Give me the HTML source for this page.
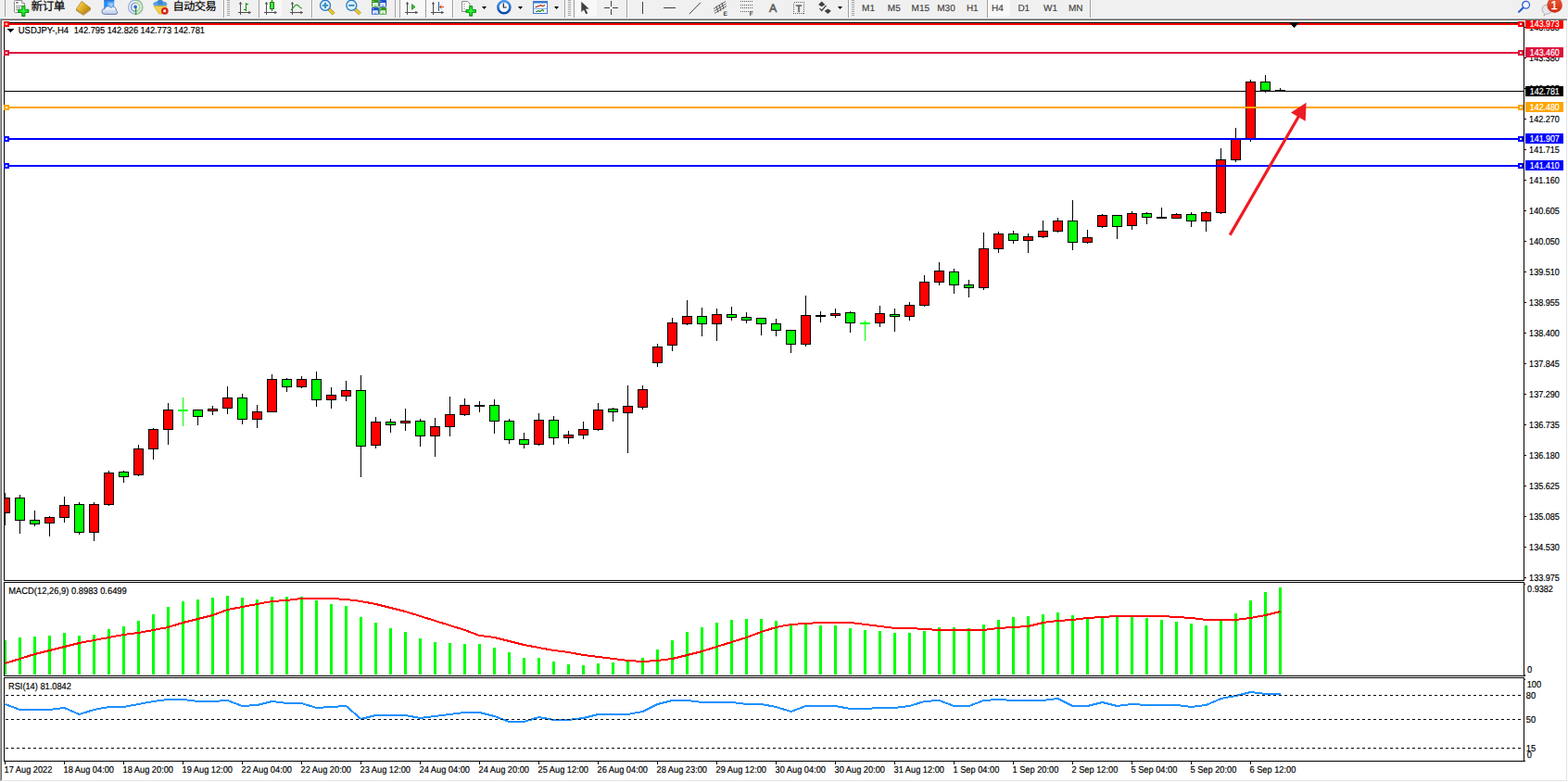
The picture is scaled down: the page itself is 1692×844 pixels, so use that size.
<!DOCTYPE html>
<html><head><meta charset="utf-8"><title>USDJPY H4</title>
<style>
html,body{margin:0;padding:0;background:#f0f0f0;overflow:hidden}
svg{display:block}
text{font-family:"Liberation Sans",sans-serif;white-space:pre;text-rendering:geometricPrecision}
</style></head><body>
<svg width="1692" height="844" viewBox="0 0 1692 844">
<g shape-rendering="crispEdges">
<rect x="0" y="0" width="1692" height="844" fill="#f0f0f0"/>
<rect x="0" y="19" width="1691" height="1" fill="#f7f7f7"/>
<rect x="0" y="20" width="1691" height="1" fill="#a0a0a0"/>
<rect x="0" y="21" width="1691" height="1" fill="#696969"/>
<rect x="0" y="20" width="1" height="823" fill="#a0a0a0"/>
<rect x="1" y="21" width="1" height="821" fill="#696969"/>
<rect x="2" y="22" width="1688" height="820" fill="#ffffff"/>
<rect x="1690" y="22" width="1" height="821" fill="#e3e3e3"/>
<rect x="1" y="842" width="1690" height="1" fill="#e3e3e3"/>
<rect x="1691" y="19" width="1" height="825" fill="#ffffff"/>
<rect x="0" y="843" width="1692" height="1" fill="#ffffff"/>
<rect x="4" y="24" width="1641" height="1" fill="#000"/>
<rect x="4" y="24" width="1" height="603" fill="#000"/>
<rect x="4" y="626" width="1641" height="1" fill="#000"/>
<rect x="1644" y="24" width="1" height="603" fill="#000"/>
<rect x="4" y="628" width="1641" height="1" fill="#000"/>
<rect x="4" y="628" width="1" height="102" fill="#000"/>
<rect x="4" y="729" width="1642" height="1" fill="#000"/>
<rect x="1644" y="628" width="1" height="102" fill="#000"/>
<rect x="4" y="731" width="1641" height="1" fill="#000"/>
<rect x="4" y="731" width="1" height="91" fill="#000"/>
<rect x="4" y="821" width="1642" height="1" fill="#000"/>
<rect x="1644" y="731" width="1" height="91" fill="#000"/>
<rect x="1645" y="623" width="2" height="1" fill="#000"/>
<rect x="1645" y="590" width="2" height="1" fill="#000"/>
<rect x="1645" y="557" width="2" height="1" fill="#000"/>
<rect x="1645" y="524" width="2" height="1" fill="#000"/>
<rect x="1645" y="491" width="2" height="1" fill="#000"/>
<rect x="1645" y="458" width="2" height="1" fill="#000"/>
<rect x="1645" y="425" width="2" height="1" fill="#000"/>
<rect x="1645" y="392" width="2" height="1" fill="#000"/>
<rect x="1645" y="359" width="2" height="1" fill="#000"/>
<rect x="1645" y="326" width="2" height="1" fill="#000"/>
<rect x="1645" y="293" width="2" height="1" fill="#000"/>
<rect x="1645" y="260" width="2" height="1" fill="#000"/>
<rect x="1645" y="227" width="2" height="1" fill="#000"/>
<rect x="1645" y="194" width="2" height="1" fill="#000"/>
<rect x="1645" y="161" width="2" height="1" fill="#000"/>
<rect x="1645" y="128" width="2" height="1" fill="#000"/>
<rect x="1645" y="95" width="2" height="1" fill="#000"/>
<rect x="1645" y="62" width="2" height="1" fill="#000"/>
<rect x="1645" y="29" width="2" height="1" fill="#000"/>
<rect x="1645" y="630" width="1" height="1" fill="#000"/>
<rect x="1645" y="728" width="1" height="1" fill="#000"/>
<rect x="1645" y="733" width="1" height="1" fill="#000"/>
<rect x="5" y="822" width="1" height="3" fill="#000"/>
<rect x="69" y="822" width="1" height="3" fill="#000"/>
<rect x="133" y="822" width="1" height="3" fill="#000"/>
<rect x="197" y="822" width="1" height="3" fill="#000"/>
<rect x="261" y="822" width="1" height="3" fill="#000"/>
<rect x="325" y="822" width="1" height="3" fill="#000"/>
<rect x="389" y="822" width="1" height="3" fill="#000"/>
<rect x="453" y="822" width="1" height="3" fill="#000"/>
<rect x="517" y="822" width="1" height="3" fill="#000"/>
<rect x="581" y="822" width="1" height="3" fill="#000"/>
<rect x="645" y="822" width="1" height="3" fill="#000"/>
<rect x="709" y="822" width="1" height="3" fill="#000"/>
<rect x="773" y="822" width="1" height="3" fill="#000"/>
<rect x="837" y="822" width="1" height="3" fill="#000"/>
<rect x="901" y="822" width="1" height="3" fill="#000"/>
<rect x="965" y="822" width="1" height="3" fill="#000"/>
<rect x="1029" y="822" width="1" height="3" fill="#000"/>
<rect x="1093" y="822" width="1" height="3" fill="#000"/>
<rect x="1157" y="822" width="1" height="3" fill="#000"/>
<rect x="1221" y="822" width="1" height="3" fill="#000"/>
<rect x="1285" y="822" width="1" height="3" fill="#000"/>
<rect x="1349" y="822" width="1" height="3" fill="#000"/>
<rect x="5" y="98" width="1639" height="1" fill="#000"/>
<rect x="5" y="532" width="1" height="35" fill="#000"/>
<rect x="5" y="537" width="6" height="17" fill="#000"/>
<rect x="5" y="538" width="5" height="15" fill="#ff0000"/>
<rect x="21" y="534" width="1" height="42" fill="#000"/>
<rect x="16" y="537" width="11" height="25" fill="#000"/>
<rect x="17" y="538" width="9" height="23" fill="#00ff00"/>
<rect x="37" y="551" width="1" height="17" fill="#000"/>
<rect x="32" y="561" width="11" height="5" fill="#000"/>
<rect x="33" y="562" width="9" height="3" fill="#00ff00"/>
<rect x="53" y="557" width="1" height="22" fill="#000"/>
<rect x="48" y="558" width="11" height="7" fill="#000"/>
<rect x="49" y="559" width="9" height="5" fill="#ff0000"/>
<rect x="69" y="536" width="1" height="28" fill="#000"/>
<rect x="64" y="545" width="11" height="14" fill="#000"/>
<rect x="65" y="546" width="9" height="12" fill="#ff0000"/>
<rect x="85" y="542" width="1" height="35" fill="#000"/>
<rect x="80" y="544" width="11" height="31" fill="#000"/>
<rect x="81" y="545" width="9" height="29" fill="#00ff00"/>
<rect x="101" y="542" width="1" height="42" fill="#000"/>
<rect x="96" y="544" width="11" height="31" fill="#000"/>
<rect x="97" y="545" width="9" height="29" fill="#ff0000"/>
<rect x="117" y="508" width="1" height="38" fill="#000"/>
<rect x="112" y="510" width="11" height="35" fill="#000"/>
<rect x="113" y="511" width="9" height="33" fill="#ff0000"/>
<rect x="133" y="508" width="1" height="13" fill="#000"/>
<rect x="128" y="509" width="11" height="6" fill="#000"/>
<rect x="129" y="510" width="9" height="4" fill="#00ff00"/>
<rect x="149" y="480" width="1" height="34" fill="#000"/>
<rect x="144" y="484" width="11" height="29" fill="#000"/>
<rect x="145" y="485" width="9" height="27" fill="#ff0000"/>
<rect x="165" y="462" width="1" height="34" fill="#000"/>
<rect x="160" y="463" width="11" height="22" fill="#000"/>
<rect x="161" y="464" width="9" height="20" fill="#ff0000"/>
<rect x="181" y="435" width="1" height="45" fill="#000"/>
<rect x="176" y="442" width="11" height="22" fill="#000"/>
<rect x="177" y="443" width="9" height="20" fill="#ff0000"/>
<rect x="197" y="429" width="1" height="31" fill="#00ff00"/>
<rect x="192" y="442" width="11" height="2" fill="#00ff00"/>
<rect x="213" y="442" width="1" height="17" fill="#000"/>
<rect x="208" y="442" width="11" height="8" fill="#000"/>
<rect x="209" y="443" width="9" height="6" fill="#00ff00"/>
<rect x="229" y="438" width="1" height="10" fill="#000"/>
<rect x="224" y="441" width="11" height="3" fill="#000"/>
<rect x="225" y="442" width="9" height="1" fill="#ff0000"/>
<rect x="245" y="417" width="1" height="30" fill="#000"/>
<rect x="240" y="429" width="11" height="12" fill="#000"/>
<rect x="241" y="430" width="9" height="10" fill="#ff0000"/>
<rect x="261" y="425" width="1" height="33" fill="#000"/>
<rect x="256" y="429" width="11" height="24" fill="#000"/>
<rect x="257" y="430" width="9" height="22" fill="#00ff00"/>
<rect x="277" y="437" width="1" height="25" fill="#000"/>
<rect x="272" y="444" width="11" height="9" fill="#000"/>
<rect x="273" y="445" width="9" height="7" fill="#ff0000"/>
<rect x="293" y="404" width="1" height="41" fill="#000"/>
<rect x="288" y="409" width="11" height="36" fill="#000"/>
<rect x="289" y="410" width="9" height="34" fill="#ff0000"/>
<rect x="309" y="408" width="1" height="15" fill="#000"/>
<rect x="304" y="409" width="11" height="9" fill="#000"/>
<rect x="305" y="410" width="9" height="7" fill="#00ff00"/>
<rect x="325" y="406" width="1" height="13" fill="#000"/>
<rect x="320" y="409" width="11" height="9" fill="#000"/>
<rect x="321" y="410" width="9" height="7" fill="#ff0000"/>
<rect x="341" y="401" width="1" height="38" fill="#000"/>
<rect x="336" y="409" width="11" height="23" fill="#000"/>
<rect x="337" y="410" width="9" height="21" fill="#00ff00"/>
<rect x="357" y="418" width="1" height="23" fill="#000"/>
<rect x="352" y="426" width="11" height="6" fill="#000"/>
<rect x="353" y="427" width="9" height="4" fill="#ff0000"/>
<rect x="373" y="411" width="1" height="22" fill="#000"/>
<rect x="368" y="421" width="11" height="7" fill="#000"/>
<rect x="369" y="422" width="9" height="5" fill="#ff0000"/>
<rect x="389" y="405" width="1" height="110" fill="#000"/>
<rect x="384" y="421" width="11" height="61" fill="#000"/>
<rect x="385" y="422" width="9" height="59" fill="#00ff00"/>
<rect x="405" y="450" width="1" height="34" fill="#000"/>
<rect x="400" y="455" width="11" height="26" fill="#000"/>
<rect x="401" y="456" width="9" height="24" fill="#ff0000"/>
<rect x="421" y="452" width="1" height="15" fill="#000"/>
<rect x="416" y="455" width="11" height="4" fill="#000"/>
<rect x="417" y="456" width="9" height="2" fill="#00ff00"/>
<rect x="437" y="441" width="1" height="24" fill="#000"/>
<rect x="432" y="454" width="11" height="3" fill="#000"/>
<rect x="433" y="455" width="9" height="1" fill="#ff0000"/>
<rect x="453" y="452" width="1" height="30" fill="#000"/>
<rect x="448" y="454" width="11" height="17" fill="#000"/>
<rect x="449" y="455" width="9" height="15" fill="#00ff00"/>
<rect x="469" y="451" width="1" height="42" fill="#000"/>
<rect x="464" y="460" width="11" height="11" fill="#000"/>
<rect x="465" y="461" width="9" height="9" fill="#ff0000"/>
<rect x="485" y="428" width="1" height="43" fill="#000"/>
<rect x="480" y="447" width="11" height="14" fill="#000"/>
<rect x="481" y="448" width="9" height="12" fill="#ff0000"/>
<rect x="501" y="430" width="1" height="19" fill="#000"/>
<rect x="496" y="437" width="11" height="11" fill="#000"/>
<rect x="497" y="438" width="9" height="9" fill="#ff0000"/>
<rect x="517" y="433" width="1" height="12" fill="#000"/>
<rect x="512" y="437" width="11" height="2" fill="#000"/>
<rect x="533" y="431" width="1" height="37" fill="#000"/>
<rect x="528" y="437" width="11" height="18" fill="#000"/>
<rect x="529" y="438" width="9" height="16" fill="#00ff00"/>
<rect x="549" y="452" width="1" height="27" fill="#000"/>
<rect x="544" y="454" width="11" height="21" fill="#000"/>
<rect x="545" y="455" width="9" height="19" fill="#00ff00"/>
<rect x="565" y="467" width="1" height="17" fill="#000"/>
<rect x="560" y="474" width="11" height="6" fill="#000"/>
<rect x="561" y="475" width="9" height="4" fill="#00ff00"/>
<rect x="581" y="446" width="1" height="35" fill="#000"/>
<rect x="576" y="453" width="11" height="27" fill="#000"/>
<rect x="577" y="454" width="9" height="25" fill="#ff0000"/>
<rect x="597" y="449" width="1" height="31" fill="#000"/>
<rect x="592" y="453" width="11" height="20" fill="#000"/>
<rect x="593" y="454" width="9" height="18" fill="#00ff00"/>
<rect x="613" y="465" width="1" height="14" fill="#000"/>
<rect x="608" y="469" width="11" height="4" fill="#000"/>
<rect x="609" y="470" width="9" height="2" fill="#ff0000"/>
<rect x="629" y="455" width="1" height="19" fill="#000"/>
<rect x="624" y="463" width="11" height="7" fill="#000"/>
<rect x="625" y="464" width="9" height="5" fill="#ff0000"/>
<rect x="645" y="435" width="1" height="30" fill="#000"/>
<rect x="640" y="442" width="11" height="22" fill="#000"/>
<rect x="641" y="443" width="9" height="20" fill="#ff0000"/>
<rect x="661" y="440" width="1" height="15" fill="#000"/>
<rect x="656" y="441" width="11" height="4" fill="#000"/>
<rect x="657" y="442" width="9" height="2" fill="#00ff00"/>
<rect x="677" y="416" width="1" height="73" fill="#000"/>
<rect x="672" y="438" width="11" height="8" fill="#000"/>
<rect x="673" y="439" width="9" height="6" fill="#ff0000"/>
<rect x="693" y="416" width="1" height="26" fill="#000"/>
<rect x="688" y="420" width="11" height="20" fill="#000"/>
<rect x="689" y="421" width="9" height="18" fill="#ff0000"/>
<rect x="709" y="371" width="1" height="25" fill="#000"/>
<rect x="704" y="374" width="11" height="18" fill="#000"/>
<rect x="705" y="375" width="9" height="16" fill="#ff0000"/>
<rect x="725" y="343" width="1" height="36" fill="#000"/>
<rect x="720" y="348" width="11" height="25" fill="#000"/>
<rect x="721" y="349" width="9" height="23" fill="#ff0000"/>
<rect x="741" y="324" width="1" height="27" fill="#000"/>
<rect x="736" y="341" width="11" height="9" fill="#000"/>
<rect x="737" y="342" width="9" height="7" fill="#ff0000"/>
<rect x="757" y="332" width="1" height="31" fill="#000"/>
<rect x="752" y="341" width="11" height="9" fill="#000"/>
<rect x="753" y="342" width="9" height="7" fill="#00ff00"/>
<rect x="773" y="333" width="1" height="35" fill="#000"/>
<rect x="768" y="339" width="11" height="11" fill="#000"/>
<rect x="769" y="340" width="9" height="9" fill="#ff0000"/>
<rect x="789" y="331" width="1" height="15" fill="#000"/>
<rect x="784" y="339" width="11" height="4" fill="#000"/>
<rect x="785" y="340" width="9" height="2" fill="#00ff00"/>
<rect x="805" y="337" width="1" height="12" fill="#000"/>
<rect x="800" y="342" width="11" height="4" fill="#000"/>
<rect x="801" y="343" width="9" height="2" fill="#00ff00"/>
<rect x="821" y="343" width="1" height="19" fill="#000"/>
<rect x="816" y="343" width="11" height="7" fill="#000"/>
<rect x="817" y="344" width="9" height="5" fill="#00ff00"/>
<rect x="837" y="344" width="1" height="19" fill="#000"/>
<rect x="832" y="349" width="11" height="8" fill="#000"/>
<rect x="833" y="350" width="9" height="6" fill="#00ff00"/>
<rect x="853" y="356" width="1" height="25" fill="#000"/>
<rect x="848" y="356" width="11" height="16" fill="#000"/>
<rect x="849" y="357" width="9" height="14" fill="#00ff00"/>
<rect x="869" y="319" width="1" height="55" fill="#000"/>
<rect x="864" y="340" width="11" height="32" fill="#000"/>
<rect x="865" y="341" width="9" height="30" fill="#ff0000"/>
<rect x="885" y="336" width="1" height="12" fill="#000"/>
<rect x="880" y="340" width="11" height="2" fill="#000"/>
<rect x="901" y="333" width="1" height="10" fill="#000"/>
<rect x="896" y="338" width="11" height="3" fill="#000"/>
<rect x="897" y="339" width="9" height="1" fill="#ff0000"/>
<rect x="917" y="336" width="1" height="23" fill="#000"/>
<rect x="912" y="337" width="11" height="12" fill="#000"/>
<rect x="913" y="338" width="9" height="10" fill="#00ff00"/>
<rect x="933" y="346" width="1" height="22" fill="#00ff00"/>
<rect x="928" y="348" width="11" height="2" fill="#00ff00"/>
<rect x="949" y="330" width="1" height="23" fill="#000"/>
<rect x="944" y="338" width="11" height="11" fill="#000"/>
<rect x="945" y="339" width="9" height="9" fill="#ff0000"/>
<rect x="965" y="333" width="1" height="25" fill="#000"/>
<rect x="960" y="339" width="11" height="3" fill="#000"/>
<rect x="961" y="340" width="9" height="1" fill="#00ff00"/>
<rect x="981" y="326" width="1" height="20" fill="#000"/>
<rect x="976" y="329" width="11" height="13" fill="#000"/>
<rect x="977" y="330" width="9" height="11" fill="#ff0000"/>
<rect x="997" y="297" width="1" height="34" fill="#000"/>
<rect x="992" y="304" width="11" height="26" fill="#000"/>
<rect x="993" y="305" width="9" height="24" fill="#ff0000"/>
<rect x="1013" y="283" width="1" height="25" fill="#000"/>
<rect x="1008" y="292" width="11" height="13" fill="#000"/>
<rect x="1009" y="293" width="9" height="11" fill="#ff0000"/>
<rect x="1029" y="290" width="1" height="27" fill="#000"/>
<rect x="1024" y="293" width="11" height="15" fill="#000"/>
<rect x="1025" y="294" width="9" height="13" fill="#00ff00"/>
<rect x="1045" y="302" width="1" height="19" fill="#000"/>
<rect x="1040" y="307" width="11" height="4" fill="#000"/>
<rect x="1041" y="308" width="9" height="2" fill="#00ff00"/>
<rect x="1061" y="251" width="1" height="62" fill="#000"/>
<rect x="1056" y="268" width="11" height="43" fill="#000"/>
<rect x="1057" y="269" width="9" height="41" fill="#ff0000"/>
<rect x="1077" y="250" width="1" height="23" fill="#000"/>
<rect x="1072" y="252" width="11" height="17" fill="#000"/>
<rect x="1073" y="253" width="9" height="15" fill="#ff0000"/>
<rect x="1093" y="249" width="1" height="14" fill="#000"/>
<rect x="1088" y="252" width="11" height="8" fill="#000"/>
<rect x="1089" y="253" width="9" height="6" fill="#00ff00"/>
<rect x="1109" y="252" width="1" height="21" fill="#000"/>
<rect x="1104" y="255" width="11" height="5" fill="#000"/>
<rect x="1105" y="256" width="9" height="3" fill="#ff0000"/>
<rect x="1125" y="238" width="1" height="19" fill="#000"/>
<rect x="1120" y="249" width="11" height="7" fill="#000"/>
<rect x="1121" y="250" width="9" height="5" fill="#ff0000"/>
<rect x="1141" y="235" width="1" height="16" fill="#000"/>
<rect x="1136" y="238" width="11" height="12" fill="#000"/>
<rect x="1137" y="239" width="9" height="10" fill="#ff0000"/>
<rect x="1157" y="216" width="1" height="54" fill="#000"/>
<rect x="1152" y="238" width="11" height="24" fill="#000"/>
<rect x="1153" y="239" width="9" height="22" fill="#00ff00"/>
<rect x="1173" y="248" width="1" height="15" fill="#000"/>
<rect x="1168" y="256" width="11" height="6" fill="#000"/>
<rect x="1169" y="257" width="9" height="4" fill="#ff0000"/>
<rect x="1189" y="231" width="1" height="15" fill="#000"/>
<rect x="1184" y="232" width="11" height="13" fill="#000"/>
<rect x="1185" y="233" width="9" height="11" fill="#ff0000"/>
<rect x="1205" y="232" width="1" height="26" fill="#000"/>
<rect x="1200" y="232" width="11" height="13" fill="#000"/>
<rect x="1201" y="233" width="9" height="11" fill="#00ff00"/>
<rect x="1221" y="228" width="1" height="20" fill="#000"/>
<rect x="1216" y="230" width="11" height="14" fill="#000"/>
<rect x="1217" y="231" width="9" height="12" fill="#ff0000"/>
<rect x="1237" y="229" width="1" height="13" fill="#000"/>
<rect x="1232" y="230" width="11" height="5" fill="#000"/>
<rect x="1233" y="231" width="9" height="3" fill="#00ff00"/>
<rect x="1253" y="224" width="1" height="12" fill="#000"/>
<rect x="1248" y="234" width="11" height="2" fill="#000"/>
<rect x="1269" y="230" width="1" height="6" fill="#000"/>
<rect x="1264" y="231" width="11" height="5" fill="#000"/>
<rect x="1265" y="232" width="9" height="3" fill="#ff0000"/>
<rect x="1285" y="229" width="1" height="16" fill="#000"/>
<rect x="1280" y="231" width="11" height="8" fill="#000"/>
<rect x="1281" y="232" width="9" height="6" fill="#00ff00"/>
<rect x="1301" y="228" width="1" height="22" fill="#000"/>
<rect x="1296" y="229" width="11" height="10" fill="#000"/>
<rect x="1297" y="230" width="9" height="8" fill="#ff0000"/>
<rect x="1317" y="160" width="1" height="71" fill="#000"/>
<rect x="1312" y="172" width="11" height="58" fill="#000"/>
<rect x="1313" y="173" width="9" height="56" fill="#ff0000"/>
<rect x="1333" y="138" width="1" height="37" fill="#000"/>
<rect x="1328" y="150" width="11" height="23" fill="#000"/>
<rect x="1329" y="151" width="9" height="21" fill="#ff0000"/>
<rect x="1349" y="86" width="1" height="67" fill="#000"/>
<rect x="1344" y="88" width="11" height="62" fill="#000"/>
<rect x="1345" y="89" width="9" height="60" fill="#ff0000"/>
<rect x="1365" y="81" width="1" height="19" fill="#000"/>
<rect x="1360" y="88" width="11" height="10" fill="#000"/>
<rect x="1361" y="89" width="9" height="8" fill="#00ff00"/>
<rect x="1381" y="95" width="1" height="3" fill="#000"/>
<rect x="1376" y="97" width="11" height="1" fill="#000"/>
<rect x="5" y="691" width="2" height="37" fill="#00ff00"/>
<rect x="20" y="688" width="3" height="40" fill="#00ff00"/>
<rect x="36" y="687" width="3" height="41" fill="#00ff00"/>
<rect x="52" y="686" width="3" height="42" fill="#00ff00"/>
<rect x="68" y="683" width="3" height="45" fill="#00ff00"/>
<rect x="84" y="686" width="3" height="42" fill="#00ff00"/>
<rect x="100" y="685" width="3" height="43" fill="#00ff00"/>
<rect x="116" y="679" width="3" height="49" fill="#00ff00"/>
<rect x="132" y="676" width="3" height="52" fill="#00ff00"/>
<rect x="148" y="670" width="3" height="58" fill="#00ff00"/>
<rect x="164" y="663" width="3" height="65" fill="#00ff00"/>
<rect x="180" y="655" width="3" height="73" fill="#00ff00"/>
<rect x="196" y="649" width="3" height="79" fill="#00ff00"/>
<rect x="212" y="647" width="3" height="81" fill="#00ff00"/>
<rect x="228" y="645" width="3" height="83" fill="#00ff00"/>
<rect x="244" y="643" width="3" height="85" fill="#00ff00"/>
<rect x="260" y="645" width="3" height="83" fill="#00ff00"/>
<rect x="276" y="647" width="3" height="81" fill="#00ff00"/>
<rect x="292" y="644" width="3" height="84" fill="#00ff00"/>
<rect x="308" y="644" width="3" height="84" fill="#00ff00"/>
<rect x="324" y="644" width="3" height="84" fill="#00ff00"/>
<rect x="340" y="648" width="3" height="80" fill="#00ff00"/>
<rect x="356" y="652" width="3" height="76" fill="#00ff00"/>
<rect x="372" y="654" width="3" height="74" fill="#00ff00"/>
<rect x="388" y="666" width="3" height="62" fill="#00ff00"/>
<rect x="404" y="672" width="3" height="56" fill="#00ff00"/>
<rect x="420" y="678" width="3" height="50" fill="#00ff00"/>
<rect x="436" y="682" width="3" height="46" fill="#00ff00"/>
<rect x="452" y="689" width="3" height="39" fill="#00ff00"/>
<rect x="468" y="693" width="3" height="35" fill="#00ff00"/>
<rect x="484" y="694" width="3" height="34" fill="#00ff00"/>
<rect x="500" y="695" width="3" height="33" fill="#00ff00"/>
<rect x="516" y="695" width="3" height="33" fill="#00ff00"/>
<rect x="532" y="699" width="3" height="29" fill="#00ff00"/>
<rect x="548" y="704" width="3" height="24" fill="#00ff00"/>
<rect x="564" y="710" width="3" height="18" fill="#00ff00"/>
<rect x="580" y="710" width="3" height="18" fill="#00ff00"/>
<rect x="596" y="714" width="3" height="14" fill="#00ff00"/>
<rect x="612" y="717" width="3" height="11" fill="#00ff00"/>
<rect x="628" y="718" width="3" height="10" fill="#00ff00"/>
<rect x="644" y="716" width="3" height="12" fill="#00ff00"/>
<rect x="660" y="715" width="3" height="13" fill="#00ff00"/>
<rect x="676" y="714" width="3" height="14" fill="#00ff00"/>
<rect x="692" y="710" width="3" height="18" fill="#00ff00"/>
<rect x="708" y="701" width="3" height="27" fill="#00ff00"/>
<rect x="724" y="691" width="3" height="37" fill="#00ff00"/>
<rect x="740" y="682" width="3" height="46" fill="#00ff00"/>
<rect x="756" y="677" width="3" height="51" fill="#00ff00"/>
<rect x="772" y="672" width="3" height="56" fill="#00ff00"/>
<rect x="788" y="669" width="3" height="59" fill="#00ff00"/>
<rect x="804" y="668" width="3" height="60" fill="#00ff00"/>
<rect x="820" y="668" width="3" height="60" fill="#00ff00"/>
<rect x="836" y="670" width="3" height="58" fill="#00ff00"/>
<rect x="852" y="674" width="3" height="54" fill="#00ff00"/>
<rect x="868" y="674" width="3" height="54" fill="#00ff00"/>
<rect x="884" y="675" width="3" height="53" fill="#00ff00"/>
<rect x="900" y="675" width="3" height="53" fill="#00ff00"/>
<rect x="916" y="678" width="3" height="50" fill="#00ff00"/>
<rect x="932" y="680" width="3" height="48" fill="#00ff00"/>
<rect x="948" y="681" width="3" height="47" fill="#00ff00"/>
<rect x="964" y="683" width="3" height="45" fill="#00ff00"/>
<rect x="980" y="683" width="3" height="45" fill="#00ff00"/>
<rect x="996" y="681" width="3" height="47" fill="#00ff00"/>
<rect x="1012" y="677" width="3" height="51" fill="#00ff00"/>
<rect x="1028" y="677" width="3" height="51" fill="#00ff00"/>
<rect x="1044" y="678" width="3" height="50" fill="#00ff00"/>
<rect x="1060" y="674" width="3" height="54" fill="#00ff00"/>
<rect x="1076" y="669" width="3" height="59" fill="#00ff00"/>
<rect x="1092" y="666" width="3" height="62" fill="#00ff00"/>
<rect x="1108" y="665" width="3" height="63" fill="#00ff00"/>
<rect x="1124" y="663" width="3" height="65" fill="#00ff00"/>
<rect x="1140" y="661" width="3" height="67" fill="#00ff00"/>
<rect x="1156" y="664" width="3" height="64" fill="#00ff00"/>
<rect x="1172" y="666" width="3" height="62" fill="#00ff00"/>
<rect x="1188" y="665" width="3" height="63" fill="#00ff00"/>
<rect x="1204" y="665" width="3" height="63" fill="#00ff00"/>
<rect x="1220" y="665" width="3" height="63" fill="#00ff00"/>
<rect x="1236" y="667" width="3" height="61" fill="#00ff00"/>
<rect x="1252" y="669" width="3" height="59" fill="#00ff00"/>
<rect x="1268" y="671" width="3" height="57" fill="#00ff00"/>
<rect x="1284" y="673" width="3" height="55" fill="#00ff00"/>
<rect x="1300" y="675" width="3" height="53" fill="#00ff00"/>
<rect x="1316" y="669" width="3" height="59" fill="#00ff00"/>
<rect x="1332" y="662" width="3" height="66" fill="#00ff00"/>
<rect x="1348" y="648" width="3" height="80" fill="#00ff00"/>
<rect x="1364" y="639" width="3" height="89" fill="#00ff00"/>
<rect x="1380" y="634" width="3" height="94" fill="#00ff00"/>
</g>
<polyline points="5.5,716 21.5,711 37.5,706 53.5,702 69.5,698 85.5,694 101.5,691 117.5,688 133.5,685 149.5,683 165.5,680 181.5,677 197.5,672 213.5,668 229.5,664 245.5,658 261.5,655 277.5,652 293.5,649 309.5,648 325.5,646 341.5,646 357.5,646 373.5,647 389.5,649 405.5,652 421.5,656 437.5,660 453.5,665 469.5,670 485.5,675 501.5,680 517.5,686 533.5,688 549.5,692 565.5,696 581.5,699 597.5,702 613.5,704 629.5,707 645.5,709 661.5,711 677.5,713 693.5,714 709.5,713 725.5,711 741.5,707 757.5,703 773.5,698 789.5,693 805.5,688 821.5,682 837.5,677 853.5,674 869.5,673 885.5,672 901.5,672 917.5,672 933.5,674 949.5,676 965.5,678 981.5,678 997.5,679 1013.5,680 1029.5,680 1045.5,680 1061.5,680 1077.5,678 1093.5,677 1109.5,676 1125.5,672 1141.5,670 1157.5,669 1173.5,667 1189.5,666 1205.5,665 1221.5,665 1237.5,665 1253.5,665 1269.5,666 1285.5,667 1301.5,669 1317.5,669 1333.5,669 1349.5,667 1365.5,664 1381.5,660" fill="none" stroke="#ff0000" stroke-width="2" stroke-linejoin="round" shape-rendering="crispEdges"/>
<polyline points="5.5,760 21.5,766 37.5,766 53.5,766 69.5,764 85.5,771 101.5,766 117.5,763 133.5,763 149.5,760 165.5,757 181.5,755 197.5,755 213.5,757 229.5,757 245.5,756 261.5,762 277.5,761 293.5,757 309.5,759 325.5,759 341.5,764 357.5,763 373.5,762 389.5,776 405.5,772 421.5,772 437.5,772 453.5,775 469.5,773 485.5,771 501.5,769 517.5,769 533.5,773 549.5,779 565.5,779 581.5,774 597.5,777 613.5,777 629.5,775 645.5,771 661.5,771 677.5,771 693.5,768 709.5,760 725.5,756 741.5,756 757.5,758 773.5,758 789.5,758 805.5,760 821.5,760 837.5,763 853.5,768 869.5,762 885.5,762 901.5,762 917.5,765 933.5,765 949.5,764 965.5,764 981.5,762 997.5,757 1013.5,756 1029.5,762 1045.5,762 1061.5,756 1077.5,755 1093.5,756 1109.5,756 1125.5,756 1141.5,754 1157.5,762 1173.5,762 1189.5,758 1205.5,762 1221.5,760 1237.5,761 1253.5,761 1269.5,761 1285.5,763 1301.5,761 1317.5,754 1333.5,751 1349.5,747 1365.5,749 1381.5,749" fill="none" stroke="#1e90ff" stroke-width="2" stroke-linejoin="round" shape-rendering="crispEdges"/>
<g shape-rendering="crispEdges">
<path d="M6 750.5H1642" stroke="#000" stroke-width="1" stroke-dasharray="3 3" fill="none"/>
<path d="M6 776.5H1642" stroke="#000" stroke-width="1" stroke-dasharray="3 3" fill="none"/>
<path d="M6 807.5H1642" stroke="#000" stroke-width="1" stroke-dasharray="3 3" fill="none"/>
<rect x="5" y="25" width="1639" height="2" fill="#ff0000"/>
<rect x="4" y="23" width="6" height="6" fill="#ff0000"/>
<rect x="6" y="25" width="2" height="2" fill="#fff"/>
<rect x="1638" y="23" width="6" height="6" fill="#ff0000"/>
<rect x="1640" y="25" width="2" height="2" fill="#fff"/>
<rect x="1646" y="22" width="41" height="9" fill="#ff0000"/>
<rect x="5" y="56" width="1639" height="2" fill="#dc143c"/>
<rect x="4" y="54" width="6" height="6" fill="#dc143c"/>
<rect x="6" y="56" width="2" height="2" fill="#fff"/>
<rect x="1638" y="54" width="6" height="6" fill="#dc143c"/>
<rect x="1640" y="56" width="2" height="2" fill="#fff"/>
<rect x="1646" y="51" width="41" height="11" fill="#dc143c"/>
<rect x="5" y="115" width="1639" height="2" fill="#ffa500"/>
<rect x="4" y="113" width="6" height="6" fill="#ffa500"/>
<rect x="6" y="115" width="2" height="2" fill="#fff"/>
<rect x="1638" y="113" width="6" height="6" fill="#ffa500"/>
<rect x="1640" y="115" width="2" height="2" fill="#fff"/>
<rect x="1646" y="110" width="41" height="11" fill="#ffa500"/>
<rect x="5" y="149" width="1639" height="2" fill="#0000ff"/>
<rect x="4" y="147" width="6" height="6" fill="#0000ff"/>
<rect x="6" y="149" width="2" height="2" fill="#fff"/>
<rect x="1638" y="147" width="6" height="6" fill="#0000ff"/>
<rect x="1640" y="149" width="2" height="2" fill="#fff"/>
<rect x="1646" y="144" width="41" height="11" fill="#0000ff"/>
<rect x="5" y="178" width="1639" height="2" fill="#0000ff"/>
<rect x="4" y="176" width="6" height="6" fill="#0000ff"/>
<rect x="6" y="178" width="2" height="2" fill="#fff"/>
<rect x="1638" y="176" width="6" height="6" fill="#0000ff"/>
<rect x="1640" y="178" width="2" height="2" fill="#fff"/>
<rect x="1646" y="173" width="41" height="11" fill="#0000ff"/>
<rect x="1646" y="93" width="41" height="11" fill="#000"/>
<rect x="1644" y="24" width="1" height="603" fill="#000"/>
<rect x="1391" y="24" width="11" height="1" fill="#000"/>
<rect x="1392" y="25" width="9" height="1" fill="#000"/>
<rect x="1393" y="26" width="7" height="1" fill="#000"/>
<rect x="1394" y="27" width="5" height="1" fill="#000"/>
<rect x="1395" y="28" width="3" height="1" fill="#000"/>
<rect x="1396" y="29" width="1" height="1" fill="#000"/>
<rect x="8" y="31" width="7" height="1" fill="#000"/>
<rect x="9" y="32" width="5" height="1" fill="#000"/>
<rect x="10" y="33" width="3" height="1" fill="#000"/>
<rect x="11" y="34" width="1" height="1" fill="#000"/>
</g>
<path d="M1327.2 253.6L1402 124.5" stroke="#ed1c24" stroke-width="3.2" fill="none"/>
<path d="M1409.6 110.8L1393 121.4L1408.7 130.7Z" fill="#ed1c24"/>
<text x="19.8" y="36" font-size="10.1" fill="#000" stroke="#000" stroke-width=".18" textLength="54.2" lengthAdjust="spacingAndGlyphs">USDJPY-,H4</text>
<text x="79.7" y="36" font-size="10.1" fill="#000" stroke="#000" stroke-width=".18" textLength="141.3" lengthAdjust="spacingAndGlyphs">142.795 142.826 142.773 142.781</text>
<text x="9.3" y="641" font-size="10.1" fill="#000" stroke="#000" stroke-width=".18" textLength="127.5" lengthAdjust="spacingAndGlyphs">MACD(12,26,9) 0.8983 0.6499</text>
<text x="9" y="744" font-size="10.1" fill="#000" stroke="#000" stroke-width=".18" textLength="67.8" lengthAdjust="spacingAndGlyphs">RSI(14) 81.0842</text>
<text x="1650.1" y="627" font-size="10.1" fill="#000" stroke="#000" stroke-width=".18" textLength="32.8" lengthAdjust="spacingAndGlyphs">133.975</text>
<text x="1650.1" y="594" font-size="10.1" fill="#000" stroke="#000" stroke-width=".18" textLength="32.8" lengthAdjust="spacingAndGlyphs">134.530</text>
<text x="1650.1" y="561" font-size="10.1" fill="#000" stroke="#000" stroke-width=".18" textLength="32.8" lengthAdjust="spacingAndGlyphs">135.085</text>
<text x="1650.1" y="528" font-size="10.1" fill="#000" stroke="#000" stroke-width=".18" textLength="32.8" lengthAdjust="spacingAndGlyphs">135.625</text>
<text x="1650.1" y="495" font-size="10.1" fill="#000" stroke="#000" stroke-width=".18" textLength="32.8" lengthAdjust="spacingAndGlyphs">136.180</text>
<text x="1650.1" y="462" font-size="10.1" fill="#000" stroke="#000" stroke-width=".18" textLength="32.8" lengthAdjust="spacingAndGlyphs">136.735</text>
<text x="1650.1" y="429" font-size="10.1" fill="#000" stroke="#000" stroke-width=".18" textLength="32.8" lengthAdjust="spacingAndGlyphs">137.290</text>
<text x="1650.1" y="396" font-size="10.1" fill="#000" stroke="#000" stroke-width=".18" textLength="32.8" lengthAdjust="spacingAndGlyphs">137.845</text>
<text x="1650.1" y="363" font-size="10.1" fill="#000" stroke="#000" stroke-width=".18" textLength="32.8" lengthAdjust="spacingAndGlyphs">138.400</text>
<text x="1650.1" y="330" font-size="10.1" fill="#000" stroke="#000" stroke-width=".18" textLength="32.8" lengthAdjust="spacingAndGlyphs">138.955</text>
<text x="1650.1" y="297" font-size="10.1" fill="#000" stroke="#000" stroke-width=".18" textLength="32.8" lengthAdjust="spacingAndGlyphs">139.510</text>
<text x="1650.1" y="264" font-size="10.1" fill="#000" stroke="#000" stroke-width=".18" textLength="32.8" lengthAdjust="spacingAndGlyphs">140.050</text>
<text x="1650.1" y="231" font-size="10.1" fill="#000" stroke="#000" stroke-width=".18" textLength="32.8" lengthAdjust="spacingAndGlyphs">140.605</text>
<text x="1650.1" y="198" font-size="10.1" fill="#000" stroke="#000" stroke-width=".18" textLength="32.8" lengthAdjust="spacingAndGlyphs">141.160</text>
<text x="1650.1" y="165" font-size="10.1" fill="#000" stroke="#000" stroke-width=".18" textLength="32.8" lengthAdjust="spacingAndGlyphs">141.715</text>
<text x="1650.1" y="132" font-size="10.1" fill="#000" stroke="#000" stroke-width=".18" textLength="32.8" lengthAdjust="spacingAndGlyphs">142.270</text>
<clipPath id="c1"><rect x="1646" y="31" width="44" height="10"/></clipPath>
<clipPath id="c2"><rect x="1646" y="62" width="44" height="10"/></clipPath>
<clipPath id="c3"><rect x="1646" y="85" width="44" height="8"/></clipPath>
<text x="1650.1" y="33" font-size="10.1" fill="#000" stroke="#000" stroke-width=".18" textLength="32.8" lengthAdjust="spacingAndGlyphs" clip-path="url(#c1)">143.935</text>
<text x="1650.1" y="66" font-size="10.1" fill="#000" stroke="#000" stroke-width=".18" textLength="32.8" lengthAdjust="spacingAndGlyphs" clip-path="url(#c2)">143.380</text>
<text x="1650.1" y="99" font-size="10.1" fill="#000" stroke="#000" stroke-width=".18" textLength="32.8" lengthAdjust="spacingAndGlyphs" clip-path="url(#c3)">142.825</text>
<text x="1650.8" y="29" font-size="10.1" fill="#fff" stroke="#fff" stroke-width=".18" textLength="32" lengthAdjust="spacingAndGlyphs">143.973</text>
<text x="1650.8" y="60" font-size="10.1" fill="#fff" stroke="#fff" stroke-width=".18" textLength="32" lengthAdjust="spacingAndGlyphs">143.460</text>
<text x="1650.8" y="119" font-size="10.1" fill="#fff" stroke="#fff" stroke-width=".18" textLength="32" lengthAdjust="spacingAndGlyphs">142.480</text>
<text x="1650.8" y="153" font-size="10.1" fill="#fff" stroke="#fff" stroke-width=".18" textLength="32" lengthAdjust="spacingAndGlyphs">141.907</text>
<text x="1650.8" y="182" font-size="10.1" fill="#fff" stroke="#fff" stroke-width=".18" textLength="32" lengthAdjust="spacingAndGlyphs">141.410</text>
<text x="1650.8" y="102" font-size="10.1" fill="#fff" stroke="#fff" stroke-width=".18" textLength="32" lengthAdjust="spacingAndGlyphs">142.781</text>
<text x="1648.1" y="639" font-size="10.1" fill="#000" stroke="#000" stroke-width=".18" textLength="27.8" lengthAdjust="spacingAndGlyphs">0.9382</text>
<text x="1647.9" y="726" font-size="10.1" fill="#000" stroke="#000" stroke-width=".18" textLength="5.2" lengthAdjust="spacingAndGlyphs">0</text>
<text x="1647.7" y="742" font-size="10.1" fill="#000" stroke="#000" stroke-width=".18" textLength="15.4" lengthAdjust="spacingAndGlyphs">100</text>
<text x="1646.8" y="754" font-size="10.1" fill="#000" stroke="#000" stroke-width=".18" textLength="10.4" lengthAdjust="spacingAndGlyphs">80</text>
<text x="1646.8" y="780" font-size="10.1" fill="#000" stroke="#000" stroke-width=".18" textLength="10.4" lengthAdjust="spacingAndGlyphs">50</text>
<text x="1646.8" y="811" font-size="10.1" fill="#000" stroke="#000" stroke-width=".18" textLength="10.4" lengthAdjust="spacingAndGlyphs">15</text>
<text x="1647.7" y="818" font-size="10.1" fill="#000" stroke="#000" stroke-width=".18" textLength="5.2" lengthAdjust="spacingAndGlyphs">0</text>
<text x="4.5" y="834" font-size="10.1" fill="#000" stroke="#000" stroke-width=".18" textLength="51.9" lengthAdjust="spacingAndGlyphs">17 Aug 2022</text>
<text x="68.5" y="834" font-size="10.1" fill="#000" stroke="#000" stroke-width=".18" textLength="54.5" lengthAdjust="spacingAndGlyphs">18 Aug 04:00</text>
<text x="132.5" y="834" font-size="10.1" fill="#000" stroke="#000" stroke-width=".18" textLength="54.5" lengthAdjust="spacingAndGlyphs">18 Aug 20:00</text>
<text x="196.5" y="834" font-size="10.1" fill="#000" stroke="#000" stroke-width=".18" textLength="54.5" lengthAdjust="spacingAndGlyphs">19 Aug 12:00</text>
<text x="260.5" y="834" font-size="10.1" fill="#000" stroke="#000" stroke-width=".18" textLength="54.5" lengthAdjust="spacingAndGlyphs">22 Aug 04:00</text>
<text x="324.5" y="834" font-size="10.1" fill="#000" stroke="#000" stroke-width=".18" textLength="54.5" lengthAdjust="spacingAndGlyphs">22 Aug 20:00</text>
<text x="388.5" y="834" font-size="10.1" fill="#000" stroke="#000" stroke-width=".18" textLength="54.5" lengthAdjust="spacingAndGlyphs">23 Aug 12:00</text>
<text x="452.5" y="834" font-size="10.1" fill="#000" stroke="#000" stroke-width=".18" textLength="54.5" lengthAdjust="spacingAndGlyphs">24 Aug 04:00</text>
<text x="516.5" y="834" font-size="10.1" fill="#000" stroke="#000" stroke-width=".18" textLength="54.5" lengthAdjust="spacingAndGlyphs">24 Aug 20:00</text>
<text x="580.5" y="834" font-size="10.1" fill="#000" stroke="#000" stroke-width=".18" textLength="54.5" lengthAdjust="spacingAndGlyphs">25 Aug 12:00</text>
<text x="644.5" y="834" font-size="10.1" fill="#000" stroke="#000" stroke-width=".18" textLength="54.5" lengthAdjust="spacingAndGlyphs">26 Aug 04:00</text>
<text x="708.5" y="834" font-size="10.1" fill="#000" stroke="#000" stroke-width=".18" textLength="54.5" lengthAdjust="spacingAndGlyphs">28 Aug 23:00</text>
<text x="772.5" y="834" font-size="10.1" fill="#000" stroke="#000" stroke-width=".18" textLength="54.5" lengthAdjust="spacingAndGlyphs">29 Aug 12:00</text>
<text x="836.5" y="834" font-size="10.1" fill="#000" stroke="#000" stroke-width=".18" textLength="54.5" lengthAdjust="spacingAndGlyphs">30 Aug 04:00</text>
<text x="900.5" y="834" font-size="10.1" fill="#000" stroke="#000" stroke-width=".18" textLength="54.5" lengthAdjust="spacingAndGlyphs">30 Aug 20:00</text>
<text x="964.5" y="834" font-size="10.1" fill="#000" stroke="#000" stroke-width=".18" textLength="54.5" lengthAdjust="spacingAndGlyphs">31 Aug 12:00</text>
<text x="1028.5" y="834" font-size="10.1" fill="#000" stroke="#000" stroke-width=".18" textLength="49.8" lengthAdjust="spacingAndGlyphs">1 Sep 04:00</text>
<text x="1092.5" y="834" font-size="10.1" fill="#000" stroke="#000" stroke-width=".18" textLength="49.8" lengthAdjust="spacingAndGlyphs">1 Sep 20:00</text>
<text x="1156.5" y="834" font-size="10.1" fill="#000" stroke="#000" stroke-width=".18" textLength="49.8" lengthAdjust="spacingAndGlyphs">2 Sep 12:00</text>
<text x="1220.5" y="834" font-size="10.1" fill="#000" stroke="#000" stroke-width=".18" textLength="49.8" lengthAdjust="spacingAndGlyphs">5 Sep 04:00</text>
<text x="1284.5" y="834" font-size="10.1" fill="#000" stroke="#000" stroke-width=".18" textLength="49.8" lengthAdjust="spacingAndGlyphs">5 Sep 20:00</text>
<text x="1348.5" y="834" font-size="10.1" fill="#000" stroke="#000" stroke-width=".18" textLength="49.8" lengthAdjust="spacingAndGlyphs">6 Sep 12:00</text>
<g id="toolbar">
<rect x="5" y="0" width="1" height="18" fill="#a0a0a0" shape-rendering="crispEdges"/>
<defs><radialGradient id="gp" cx=".5" cy=".45" r=".6"><stop offset="0" stop-color="#30ff40"/><stop offset=".6" stop-color="#18d828"/><stop offset="1" stop-color="#0c9c14"/></radialGradient></defs>
<path d="M15.500 1.500a1 1 0 0 1 1-1h7l3 3v9a1 1 0 0 1-1 1h-9a1 1 0 0 1-1-1z" fill="#fff" stroke="#8a8a8a"/><path d="M23.500 .500v3h3" fill="#f0f0f0" stroke="#8a8a8a" stroke-width=".8"/><rect x="17" y="2" width="2.800" height="1.600" fill="#808080"/><path d="M17 6.500h6M17 8.500h5M17 10.500h3" stroke="#909090"/>
<path d="M23.700 6.300h3.200v4h4v3.200h-4v4h-3.200v-4h-4v-3.200h4z" fill="url(#gp)" stroke="#0a8a0a" stroke-width=".9"/>
<text x="33.6" y="11.1" font-size="12.6" fill="#000" stroke="#000" stroke-width=".2" textLength="36.8" lengthAdjust="spacing" style="font-family:'Liberation Sans','Noto Sans CJK SC',sans-serif">新订单</text>
<defs><linearGradient id="bk" x1="0" y1="0" x2="1" y2=".6"><stop offset="0" stop-color="#fbe98a"/><stop offset=".45" stop-color="#e8b62c"/><stop offset="1" stop-color="#b8800f"/></linearGradient></defs><path d="M82.200 10.100L88.200 1.400L97.900 8.900L90 15.300z" fill="url(#bk)" stroke="#a8700c" stroke-width=".7" stroke-linejoin="round"/><path d="M82.200 10.100L90 15.300L97.900 8.900L97.600 10.900L90 16.800L82.500 11.800z" fill="#94620c"/><path d="M83.200 11.300L90 16L97.400 10" stroke="#f2e2a4" stroke-width=".6" fill="none"/>
<rect x="112.400" y="0" width="10.800" height="10.500" fill="#58a8f4"/><rect x="112.400" y="0" width="3.400" height="10.500" fill="#1f8cff"/><rect x="112.400" y="0" width="10.800" height="1.600" fill="#2a78d8"/><path d="M117.500 4.300h4.200M117.500 6.300h4.200" stroke="#e4f2ff" stroke-width=".9"/>
<defs><linearGradient id="cl" x1="0" y1="0" x2="0" y2="1"><stop offset="0" stop-color="#ffffff"/><stop offset="1" stop-color="#b8c8e4"/></linearGradient></defs><path d="M112.800 15.400a3 3 0 0 1 .3-6a3.600 3.600 0 0 1 6.500-1.100a3.300 3.300 0 0 1 5.600 3.200a2 2 0 0 1-1 3.900z" fill="url(#cl)" stroke="#5878b8" stroke-width=".9"/>
<g fill="none" stroke-linecap="round"><path d="M146.200 15.300a7.600 7.600 0 0 1 0-15.200" stroke="#9db2e0" stroke-width="1.400"/><path d="M146.200 12.300a4.600 4.600 0 0 1 0-9.200" stroke="#6f8fd8" stroke-width="1.400"/><path d="M146.200 .100a7.600 7.600 0 0 1 0 15.200" stroke="#8fc48f" stroke-width="1.600"/><path d="M146.200 3.100a4.600 4.600 0 0 1 0 9.200" stroke="#a8d0a8" stroke-width="1.600"/><path d="M146.600 8v7.600" stroke="#2fa52f" stroke-width="1.500"/></g><circle cx="146.100" cy="7.400" r="1.800" fill="#2f64d8"/>
<ellipse cx="172.8" cy="4.2" rx="7.6" ry="3" fill="#58a0e0"/><ellipse cx="172.8" cy="2.4" rx="3.200" ry="2.600" fill="#3f88d0"/><path d="M166 6.500h14l-5.500 8.500h-3z" fill="#f2d048" stroke="#c8a020" stroke-width=".6"/>
<circle cx="177.8" cy="11.8" r="3.900" fill="#d8261c"/><rect x="176.300" y="10.500" width="2.600" height="2.600" fill="#fff"/>
<text x="186.600" y="11.200" font-size="12.200" fill="#000" stroke="#000" stroke-width=".2" textLength="47" lengthAdjust="spacing" style="font-family:'Liberation Sans','Noto Sans CJK SC',sans-serif">自动交易</text>
<rect x="241" y="0" width="1" height="19" fill="#a0a0a0" shape-rendering="crispEdges"/><rect x="242" y="0" width="1" height="19" fill="#fff" shape-rendering="crispEdges"/>
<rect x="245" y="0" width="3" height="1" fill="#a8a8a8" shape-rendering="crispEdges"/>
<rect x="245" y="2" width="3" height="1" fill="#a8a8a8" shape-rendering="crispEdges"/>
<rect x="245" y="4" width="3" height="1" fill="#a8a8a8" shape-rendering="crispEdges"/>
<rect x="245" y="6" width="3" height="1" fill="#a8a8a8" shape-rendering="crispEdges"/>
<rect x="245" y="8" width="3" height="1" fill="#a8a8a8" shape-rendering="crispEdges"/>
<rect x="245" y="10" width="3" height="1" fill="#a8a8a8" shape-rendering="crispEdges"/>
<rect x="245" y="12" width="3" height="1" fill="#a8a8a8" shape-rendering="crispEdges"/>
<rect x="245" y="14" width="3" height="1" fill="#a8a8a8" shape-rendering="crispEdges"/>
<rect x="245" y="16" width="3" height="1" fill="#a8a8a8" shape-rendering="crispEdges"/>
<g stroke="#505050" fill="none" shape-rendering="crispEdges"><path d="M259.500 3v13M257 13.500h12"/></g><path d="M257.800 4.600h3.400l-1.700-2.800zM268.300 11.800v3.400l2.900-1.700z" fill="#505050"/>
<path d="M265.500 3v9M263 10.500h3M265.500 4.500h2" stroke="#109010" fill="none" shape-rendering="crispEdges"/>
<rect x="279" y="0" width="1" height="19" fill="#a0a0a0" shape-rendering="crispEdges"/><rect x="280" y="0" width="1" height="19" fill="#fff" shape-rendering="crispEdges"/>
<rect x="280" y="0" width="24" height="18" fill="#f8f8f8"/>
<g stroke="#505050" fill="none" shape-rendering="crispEdges"><path d="M287.500 3v13M285 13.500h12"/></g><path d="M285.800 4.600h3.400l-1.700-2.800zM296.300 11.800v3.400l2.900-1.700z" fill="#505050"/>
<path d="M293.500 0v12" stroke="#107010" shape-rendering="crispEdges"/><rect x="291.500" y="2.500" width="4" height="7" fill="#48e448" stroke="#108010" shape-rendering="crispEdges"/>
<g stroke="#505050" fill="none" shape-rendering="crispEdges"><path d="M315.500 3v13M313 13.500h12"/></g><path d="M313.800 4.600h3.400l-1.700-2.800zM324.300 11.800v3.400l2.900-1.700z" fill="#505050"/>
<path d="M314 10.800C316.500 9 318 5.200 320 5.200S323 8.200 325.800 9.300" stroke="#2a9a2a" fill="none" stroke-width="1.200"/>
<rect x="336" y="0" width="1" height="19" fill="#a0a0a0" shape-rendering="crispEdges"/><rect x="337" y="0" width="1" height="19" fill="#fff" shape-rendering="crispEdges"/>
<path d="M354.800 9.800l5.400 5.200" stroke="#a07c10" stroke-width="3.600" stroke-linecap="butt"/><path d="M354.900 9.900l5.200 5" stroke="#ecd030" stroke-width="2.200" stroke-linecap="butt"/><circle cx="351" cy="5.850" r="5.500" fill="#dcf4ff" stroke="#2a78c8" stroke-width="1.300"/>
<path d="M347.800 5.850h6.400" stroke="#3a8cb8" stroke-width="1.900"/>
<path d="M351 2.650v6.400" stroke="#3a8cb8" stroke-width="1.900"/>
<path d="M383.100 9.800l5.400 5.200" stroke="#a07c10" stroke-width="3.600" stroke-linecap="butt"/><path d="M383.200 9.900l5.200 5" stroke="#ecd030" stroke-width="2.200" stroke-linecap="butt"/><circle cx="379.300" cy="5.850" r="5.500" fill="#dcf4ff" stroke="#2a78c8" stroke-width="1.300"/>
<path d="M376.100 5.850h6.400" stroke="#3a8cb8" stroke-width="1.900"/>
<rect x="401" y="0" width="7.900" height="7.600" rx=".8" fill="#2f9a1a"/><rect x="402.100" y="3.100" width="5.700" height="4" rx=".7" fill="#fff"/><rect x="403.100" y="4.400" width="3.700" height="1" fill="#9fdc8c"/><rect x="403.300" y="6.400" width="3.300" height=".8" fill="#2f9a1a"/><rect x="402.200" y="1" width=".9" height=".9" fill="#e8f0ff"/>
<rect x="409.200" y="0" width="7.900" height="7.600" rx=".8" fill="#1f50d0"/><rect x="410.300" y="3.100" width="5.700" height="4" rx=".7" fill="#fff"/><rect x="411.300" y="4.400" width="3.700" height="1" fill="#9fb8f4"/><rect x="411.500" y="6.400" width="3.300" height=".8" fill="#1f50d0"/><rect x="410.400" y="1" width=".9" height=".9" fill="#e8f0ff"/>
<rect x="401" y="8.100" width="7.900" height="7.600" rx=".8" fill="#1f50d0"/><rect x="402.100" y="11.200" width="5.700" height="4" rx=".7" fill="#fff"/><rect x="403.100" y="12.500" width="3.700" height="1" fill="#9fb8f4"/><rect x="403.300" y="14.500" width="3.300" height=".8" fill="#1f50d0"/><rect x="402.200" y="9.100" width=".9" height=".9" fill="#e8f0ff"/>
<rect x="409.200" y="8.100" width="7.900" height="7.600" rx=".8" fill="#2f9a1a"/><rect x="410.300" y="11.200" width="5.700" height="4" rx=".7" fill="#fff"/><rect x="411.300" y="12.500" width="3.700" height="1" fill="#9fdc8c"/><rect x="411.500" y="14.500" width="3.300" height=".8" fill="#2f9a1a"/><rect x="410.400" y="9.100" width=".9" height=".9" fill="#e8f0ff"/>
<rect x="426" y="0" width="1" height="19" fill="#a0a0a0" shape-rendering="crispEdges"/><rect x="427" y="0" width="1" height="19" fill="#fff" shape-rendering="crispEdges"/>
<rect x="431" y="0" width="1" height="19" fill="#a0a0a0" shape-rendering="crispEdges"/><rect x="432" y="0" width="1" height="19" fill="#fff" shape-rendering="crispEdges"/>
<rect x="432" y="0" width="26" height="18" fill="#f8f8f8"/>
<g stroke="#505050" fill="none" shape-rendering="crispEdges"><path d="M439.500 3v13M437 13.500h12"/></g><path d="M437.800 4.600h3.400l-1.700-2.800zM448.300 11.800v3.400l2.900-1.700z" fill="#505050"/>
<path d="M444.500 4.500l3.500 3l-3.500 3z" fill="#30c030" stroke="#108010" stroke-width=".7"/>
<rect x="459" y="0" width="1" height="19" fill="#a0a0a0" shape-rendering="crispEdges"/><rect x="460" y="0" width="1" height="19" fill="#fff" shape-rendering="crispEdges"/>
<rect x="460" y="0" width="27" height="18" fill="#f8f8f8"/>
<g stroke="#505050" fill="none" shape-rendering="crispEdges"><path d="M467.500 3v13M465 13.500h12"/></g><path d="M465.800 4.600h3.400l-1.700-2.800zM476.300 11.800v3.400l2.900-1.700z" fill="#505050"/>
<path d="M473.500 2v10" stroke="#1a60b0" shape-rendering="crispEdges"/><path d="M479 7.500h-4.500m2-2l-2 2l2 2" stroke="#d04010" fill="none"/>
<rect x="488" y="0" width="1" height="19" fill="#a0a0a0" shape-rendering="crispEdges"/><rect x="489" y="0" width="1" height="19" fill="#fff" shape-rendering="crispEdges"/>
<path d="M498.500 1.500h6l2.500 2.500v8.500h-8.500z" fill="#fff" stroke="#8a8a8a"/><path d="M500 4.500h2M500 7h2M500 9.500h2" stroke="#9a9a9a" stroke-width=".8"/>
<path d="M506.700 6.600h3v3.800h3.800v3h-3.800v3.800h-3v-3.800h-3.800v-3h3.800z" fill="url(#gp)" stroke="#0a8a0a" stroke-width=".9"/>
<path d="M520 7h5l-2.500 3z" fill="#000"/>
<defs><linearGradient id="ck" x1="0" y1="0" x2="0" y2="1"><stop offset="0" stop-color="#4a9af0"/><stop offset="1" stop-color="#0a48a8"/></linearGradient></defs><circle cx="543.900" cy="7.700" r="6.500" fill="#f4f8fc" stroke="url(#ck)" stroke-width="2.600"/><path d="M543.300 3.600v4.400h3.400" stroke="#202020" fill="none" stroke-width="1.200"/>
<path d="M559 7h5l-2.500 3z" fill="#000"/>
<rect x="575.500" y="1.500" width="15" height="13" fill="#fff" stroke="#3a78d0"/><rect x="575" y="1" width="16" height="2.500" fill="#3a78d0"/><path d="M577.500 7.500h1.500l1.500-1h1.500l1.500-1l1.500 1h1.500l1.500-1" stroke="#a02808" fill="none" stroke-width="1.100"/><path d="M578 12.500h1.500l1.500-1l1.500 1l1.500-1l1.500-1l1.500 2" stroke="#108018" fill="none" stroke-width="1.100"/><path d="M575.500 9.300h15" stroke="#6a98e0" stroke-width=".9"/>
<path d="M598 7h5l-2.500 3z" fill="#000"/>
<rect x="609" y="0" width="1" height="19" fill="#a0a0a0" shape-rendering="crispEdges"/><rect x="610" y="0" width="1" height="19" fill="#fff" shape-rendering="crispEdges"/>
<rect x="613" y="0" width="3" height="1" fill="#a8a8a8" shape-rendering="crispEdges"/>
<rect x="613" y="2" width="3" height="1" fill="#a8a8a8" shape-rendering="crispEdges"/>
<rect x="613" y="4" width="3" height="1" fill="#a8a8a8" shape-rendering="crispEdges"/>
<rect x="613" y="6" width="3" height="1" fill="#a8a8a8" shape-rendering="crispEdges"/>
<rect x="613" y="8" width="3" height="1" fill="#a8a8a8" shape-rendering="crispEdges"/>
<rect x="613" y="10" width="3" height="1" fill="#a8a8a8" shape-rendering="crispEdges"/>
<rect x="613" y="12" width="3" height="1" fill="#a8a8a8" shape-rendering="crispEdges"/>
<rect x="613" y="14" width="3" height="1" fill="#a8a8a8" shape-rendering="crispEdges"/>
<rect x="613" y="16" width="3" height="1" fill="#a8a8a8" shape-rendering="crispEdges"/>
<rect x="619" y="0" width="1" height="19" fill="#a0a0a0" shape-rendering="crispEdges"/><rect x="620" y="0" width="1" height="19" fill="#fff" shape-rendering="crispEdges"/>
<rect x="620" y="0" width="24" height="18" fill="#f8f8f8"/>
<path d="M627.300 1.800v11.200l2.700-2.500l2.300 4.700l1.900-.9l-2.300-4.600l3.700-.200z" fill="#404040"/>
<path d="M652 8.500h6M661 8.500h6M659.500 1v6M659.500 10v6" stroke="#404040" shape-rendering="crispEdges"/>
<rect x="676" y="0" width="1" height="19" fill="#a0a0a0" shape-rendering="crispEdges"/><rect x="677" y="0" width="1" height="19" fill="#fff" shape-rendering="crispEdges"/>
<path d="M693.500 2v13M716 8.500h12.500" stroke="#404040" shape-rendering="crispEdges"/><path d="M743.700 15.200L756 2.700" stroke="#404040" stroke-width="1"/>
<g stroke="#505050" stroke-width=".9" fill="none"><path d="M770 9.500l13-8M771 14.500l13-8M770.500 12l13-8"/><path d="M773 6.500l2 7M776 5l2 7M779 3l2 7"/></g>
<text x="780.600" y="16.600" font-size="6.500" font-weight="bold" fill="#404040">E</text>
<path d="M799 1.500h13" stroke="#606060" stroke-dasharray="1 1" shape-rendering="crispEdges"/>
<path d="M799 5.500h13" stroke="#606060" stroke-dasharray="1 1" shape-rendering="crispEdges"/>
<path d="M799 8.500h13" stroke="#606060" stroke-dasharray="1 1" shape-rendering="crispEdges"/>
<path d="M799 12.500h13" stroke="#606060" stroke-dasharray="1 1" shape-rendering="crispEdges"/>
<text x="808.800" y="16.600" font-size="6.500" font-weight="bold" fill="#404040">F</text>
<text x="834.200" y="13" font-size="12.400" fill="#585858" stroke="#585858" stroke-width=".55" text-anchor="middle">A</text>
<rect x="856.500" y="2.500" width="11" height="12" fill="none" stroke="#606060" stroke-dasharray="1 1" shape-rendering="crispEdges"/><text x="862" y="12.500" font-size="10.500" fill="#585858" stroke="#585858" stroke-width=".55" text-anchor="middle">T</text>
<path d="M886.700 1.600l3.600 3.300l-3.600 2.300l-3.600-2.300z M893.300 15l-3.600-3.300l3.600-2.300l3.600 2.300z" fill="#404040"/><path d="M884.500 9.200l2.200 2.300l4.800-5.600" stroke="#404040" fill="none" stroke-width="1.200"/>
<path d="M904 7h5l-2.500 3z" fill="#000"/>
<rect x="915" y="0" width="1" height="19" fill="#a0a0a0" shape-rendering="crispEdges"/><rect x="916" y="0" width="1" height="19" fill="#fff" shape-rendering="crispEdges"/>
<rect x="919" y="0" width="3" height="1" fill="#a8a8a8" shape-rendering="crispEdges"/>
<rect x="919" y="2" width="3" height="1" fill="#a8a8a8" shape-rendering="crispEdges"/>
<rect x="919" y="4" width="3" height="1" fill="#a8a8a8" shape-rendering="crispEdges"/>
<rect x="919" y="6" width="3" height="1" fill="#a8a8a8" shape-rendering="crispEdges"/>
<rect x="919" y="8" width="3" height="1" fill="#a8a8a8" shape-rendering="crispEdges"/>
<rect x="919" y="10" width="3" height="1" fill="#a8a8a8" shape-rendering="crispEdges"/>
<rect x="919" y="12" width="3" height="1" fill="#a8a8a8" shape-rendering="crispEdges"/>
<rect x="919" y="14" width="3" height="1" fill="#a8a8a8" shape-rendering="crispEdges"/>
<rect x="919" y="16" width="3" height="1" fill="#a8a8a8" shape-rendering="crispEdges"/>
<rect x="1067" y="0" width="23" height="18" fill="#f8f8f8"/>
<text x="937" y="11.800" font-size="10" fill="#404040" stroke="#404040" stroke-width=".15" text-anchor="middle">M1</text>
<text x="964.800" y="11.800" font-size="10" fill="#404040" stroke="#404040" stroke-width=".15" text-anchor="middle">M5</text>
<text x="993.300" y="11.800" font-size="10" fill="#404040" stroke="#404040" stroke-width=".15" text-anchor="middle">M15</text>
<text x="1021" y="11.800" font-size="10" fill="#404040" stroke="#404040" stroke-width=".15" text-anchor="middle">M30</text>
<text x="1049.300" y="11.800" font-size="10" fill="#404040" stroke="#404040" stroke-width=".15" text-anchor="middle">H1</text>
<text x="1076.500" y="11.800" font-size="10" fill="#404040" stroke="#404040" stroke-width=".15" text-anchor="middle">H4</text>
<text x="1104.800" y="11.800" font-size="10" fill="#404040" stroke="#404040" stroke-width=".15" text-anchor="middle">D1</text>
<text x="1133.600" y="11.800" font-size="10" fill="#404040" stroke="#404040" stroke-width=".15" text-anchor="middle">W1</text>
<text x="1160.800" y="11.800" font-size="10" fill="#404040" stroke="#404040" stroke-width=".15" text-anchor="middle">MN</text>
<rect x="1065" y="0" width="1" height="19" fill="#a0a0a0" shape-rendering="crispEdges"/><rect x="1066" y="0" width="1" height="19" fill="#fff" shape-rendering="crispEdges"/>
<rect x="1176" y="0" width="1" height="19" fill="#a0a0a0" shape-rendering="crispEdges"/><rect x="1177" y="0" width="1" height="19" fill="#fff" shape-rendering="crispEdges"/>
<circle cx="1646.600" cy="5.300" r="3.900" fill="#f4f6fc" stroke="#2a60d0" stroke-width="1.300"/><path d="M1643.700 8.300l-4.600 4.400" stroke="#2a60d0" stroke-width="2.200" stroke-linecap="round"/>
<path d="M1664 10.500a5.500 5 0 1 1 5 4.500l-3 2l.5-2.500a5 5 0 0 1-2.500-4z" fill="#e4e6ee" stroke="#a8a8a8" stroke-width=".9"/>
<defs><linearGradient id="bg" x1="0" y1="0" x2="0" y2="1"><stop offset="0" stop-color="#e85a38"/><stop offset="1" stop-color="#d22a10"/></linearGradient></defs><circle cx="1677.600" cy="5.400" r="8.300" fill="url(#bg)"/><text x="1677.200" y="10.200" font-size="13" fill="#fff" stroke="#fff" stroke-width=".3" text-anchor="middle">1</text>
</g>
</svg>
</body></html>
